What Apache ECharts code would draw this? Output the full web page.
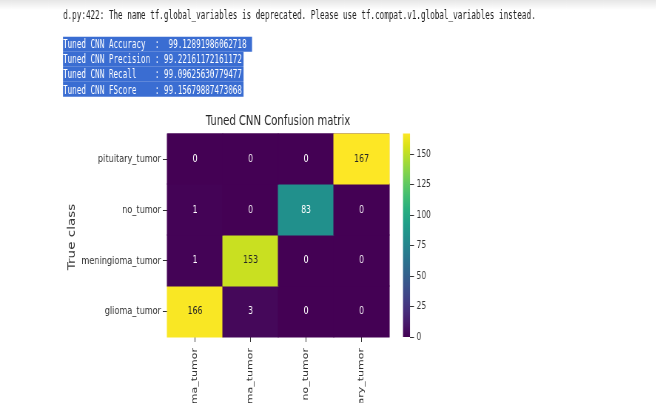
<!DOCTYPE html>
<html><head><meta charset="utf-8">
<script src="https://cdn.jsdelivr.net/npm/echarts@6/dist/echarts.min.js"></script>
<style>
html,body{margin:0;padding:0;background:#fff;overflow:hidden}
#wrap{width:656px;height:403px;overflow:hidden;position:relative;background:#fff}
#chart{width:886px;height:403px;transform:scaleX(0.74);transform-origin:0 0}
</style></head><body><div id="wrap"><div id="chart"></div></div>
<script>
// ---- data ----
const categories = ['glioma_tumor', 'meningioma_tumor', 'no_tumor', 'pituitary_tumor'];
// rows = true class, columns = predicted class
const trueGlioma     = [166, 3, 0, 0];
const trueMeningioma = [1, 153, 0, 0];
const trueNoTumor    = [1, 0, 83, 0];
const truePituitary  = [0, 0, 0, 167];
const colorbarTicks  = [0, 25, 50, 75, 100, 125, 150];
const titleText = 'Tuned CNN Confusion matrix';
const yAxisTitle = 'True class';
const logLine = 'd.py:422: The name tf.global_variables is deprecated. Please use tf.compat.v1.global_variables instead.';
const metricLines = [
  'Tuned CNN Accuracy  :  99.12891986062718',
  'Tuned CNN Precision : 99.22161172161172',
  'Tuned CNN Recall    : 99.09625630779477',
  'Tuned CNN FScore    : 99.15679887473068'
];

// ---- build ----
const S = 0.74;
const px = v => v / S;
const rows = [trueGlioma, trueMeningioma, trueNoTumor, truePituitary];
const allVals = rows.flat();
const vmax = Math.max(...allVals);
const viridis = ['#440154','#48186a','#472d7b','#424086','#3b528b','#33638d','#2c728e','#26828e','#21918c',
                 '#1fa088','#28ae80','#3fbc73','#5ec962','#84d44b','#addc30','#d8e219','#fde725'];
function hex2rgb(h) { return [1, 3, 5].map(i => parseInt(h.substr(i, 2), 16)); }
function cmap(t) {
  t = Math.max(0, Math.min(1, t));
  const f = t * (viridis.length - 1), i = Math.min(Math.floor(f), viridis.length - 2), r = f - i;
  const a = hex2rgb(viridis[i]), b = hex2rgb(viridis[i + 1]);
  return 'rgb(' + a.map((v, k) => Math.round(v + (b[k] - v) * r)).join(',') + ')';
}
const heatData = [];
rows.forEach((row, yi) => row.forEach((v, xi) => heatData.push([xi, yi, v])));

const chart = echarts.init(document.getElementById('chart'));
const FONT = 'DejaVu Sans';
const MONO = 'DejaVu Sans Mono';
const hlWidths = [px(252 - 63), px(243.5 - 63), px(243.5 - 63), px(243.5 - 63)];
const MONO_SIZE = 12, MONO_SX = 10.3 / 12;

const graphics = [
  {type: 'rect', shape: {x: 0, y: 0, width: 886, height: 10}, silent: true,
   style: {fill: new echarts.graphic.LinearGradient(0, 0, 0, 1, [{offset: 0, color: '#e6e6e6'}, {offset: 1, color: '#ffffff'}])}},
  {type: 'text', x: px(63), y: 16, scaleX: MONO_SX, silent: true,
   style: {text: logLine, fill: '#222222', font: MONO_SIZE + 'px "' + MONO + '"', verticalAlign: 'middle', align: 'left'}}
];
metricLines.forEach((t, i) => {
  graphics.push({type: 'rect', silent: true, shape: {x: px(63), y: 36.7 + i * 15, width: hlWidths[i], height: 15},
    style: {fill: '#3a6dd2'}});
});
metricLines.forEach((t, i) => {
  graphics.push({type: 'text', silent: true, x: px(63), y: 44.5 + i * 15.3, scaleX: MONO_SX,
    style: {text: t, fill: '#ffffff', font: MONO_SIZE + 'px "' + MONO + '"', verticalAlign: 'middle', align: 'left'}});
});
graphics.push({type: 'text', silent: true, x: px(72), y: 237, rotation: Math.PI / 2,
  style: {text: yAxisTitle, fill: '#333333', font: '13.5px "' + FONT + '"', align: 'center', verticalAlign: 'middle'}});

function renderCell(params, api) {
  const xi = api.value(0), yi = api.value(1), v = api.value(2);
  const c = api.coord([xi, yi]);
  const s = api.size([1, 1]);
  const x0 = Math.round(c[0] - s[0] / 2), x1 = Math.round(c[0] + s[0] / 2);
  const y0 = Math.round(c[1] - s[1] / 2), y1 = Math.round(c[1] + s[1] / 2);
  const children = [];
  if (params.dataIndex === 0) {
    const cs = params.coordSys;
    children.push({type: 'rect', z2: 0, shape: {x: cs.x, y: cs.y, width: cs.width, height: cs.height},
      style: {fill: cmap(0)}});
  }
  children.push({type: 'rect', z2: 1, shape: {x: x0 - 0.5, y: y0 - 0.5, width: x1 - x0 + 1, height: y1 - y0 + 1},
    style: {fill: cmap(v / vmax)}});
  children.push({type: 'text', x: c[0], y: c[1], z2: 5,
    style: {text: String(v), fill: v > vmax * 0.6 ? '#262626' : '#ffffff', font: '10.5px "' + FONT + '"',
            align: 'center', verticalAlign: 'middle'}});
  return {type: 'group', children};
}

const option = {
  animation: false,
  backgroundColor: '#ffffff',
  textStyle: {fontFamily: FONT},
  title: {text: titleText, left: px(278), top: 114, textAlign: 'center', padding: 0,
    textStyle: {fontSize: 13.6, fontWeight: 'normal', color: '#262626', fontFamily: FONT}},
  graphic: graphics,
  grid: [
    {left: px(167.3), top: 133.5, width: px(389.3 - 167.3), height: 203.5, containLabel: false, outerBoundsMode: 'none', show: false},
    {left: px(403), top: 133.5, width: px(7), height: 203.5, containLabel: false, outerBoundsMode: 'none', show: false}
  ],
  xAxis: [
    {type: 'category', gridIndex: 0, data: categories, axisLine: {show: false},
     axisTick: {show: true, alignWithLabel: true, length: 5, lineStyle: {color: '#333'}},
     axisLabel: {rotate: 90, margin: 11, fontSize: 11, color: '#333', fontFamily: FONT, interval: 0},
     splitLine: {show: false}, splitArea: {show: false}},
    {type: 'category', gridIndex: 1, data: ['c'], show: false}
  ],
  yAxis: [
    {type: 'category', gridIndex: 0, data: categories, axisLine: {show: false},
     axisTick: {show: true, alignWithLabel: true, length: px(4.5), lineStyle: {color: '#333'}},
     axisLabel: {margin: px(6.3), fontSize: 11, color: '#333', fontFamily: FONT, interval: 0},
     splitLine: {show: false}, splitArea: {show: false}},
    {type: 'value', gridIndex: 1, min: 0, max: vmax, position: 'right', axisLine: {show: false},
     axisTick: {show: true, length: px(4), lineStyle: {color: '#333'}, customValues: colorbarTicks},
     axisLabel: {margin: px(6.7), fontSize: 10, color: '#333', fontFamily: FONT, customValues: colorbarTicks},
     splitLine: {show: false}}
  ],
  series: [
    {type: 'custom', xAxisIndex: 0, yAxisIndex: 0, data: heatData, renderItem: renderCell, silent: true,
     encode: {x: 0, y: 1}},
    {type: 'bar', xAxisIndex: 1, yAxisIndex: 1, data: [vmax], barWidth: '100%', silent: true,
     itemStyle: {color: new echarts.graphic.LinearGradient(0, 1, 0, 0,
       viridis.map((c, i) => ({offset: i / (viridis.length - 1), color: c})))}}
  ]
};
chart.setOption(option);
</script></body></html>
